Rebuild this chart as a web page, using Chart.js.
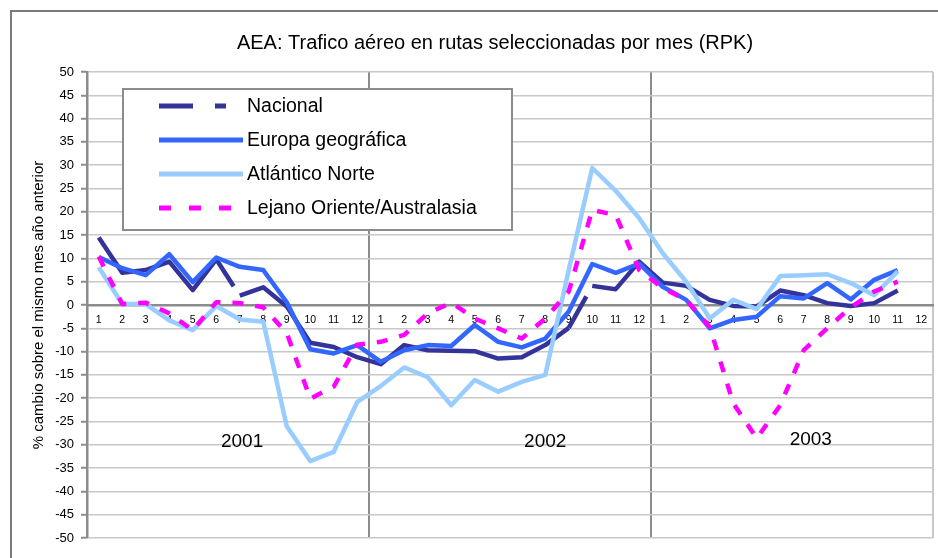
<!DOCTYPE html>
<html>
<head>
<meta charset="utf-8">
<title>AEA: Trafico aéreo en rutas seleccionadas por mes (RPK)</title>
<script src="https://cdn.jsdelivr.net/npm/chart.js@4.4.1/dist/chart.umd.min.js"></script>
<style>
  html, body { margin: 0; padding: 0; background: #fff; }
</style>
</head>
<body>
<canvas id="myChart" width="938" height="558"></canvas>
<script>
// datos (% cambio sobre el mismo mes del año anterior)
const years = ['2001', '2002', '2003'];
const months = ['1', '2', '3', '4', '5', '6', '7', '8', '9', '10', '11', '12'];

const nacional = [
  14.5, 6.9, 7.5, 9.3, 3.2, 9.8, 2.0, 3.8, -0.3, -8.1, -9.0, -11.2,
  -12.7, -8.6, -9.7, -9.8, -9.9, -11.5, -11.2, -8.6, -4.9, 4.1, 3.4, 9.3,
  4.8, 4.1, 1.1, -0.2, -0.3, 3.1, 2.1, 0.4, -0.2, 0.4, 3.1
];
const europa = [
  10.3, 7.9, 6.4, 10.9, 4.9, 10.2, 8.2, 7.5, 0.6, -9.5, -10.4, -8.6,
  -12.2, -9.7, -8.6, -8.8, -4.3, -7.9, -9.1, -7.2, -1.4, 8.8, 6.9, 8.9,
  3.9, 1.1, -5.0, -3.2, -2.5, 1.9, 1.4, 4.7, 1.2, 5.4, 7.5
];
const atlantico = [
  8.1, 0.2, 0.2, -3.3, -5.4, -0.2, -3.1, -3.6, -26.0, -33.5, -31.5, -20.8,
  -17.4, -13.4, -15.5, -21.5, -16.1, -18.6, -16.5, -15.0, 7.5, 29.4, 24.5, 18.6,
  11.1, 5.0, -2.9, 1.1, -0.9, 6.2, 6.4, 6.6, 4.7, 2.1, 7.2
];
const lejano = [
  10.4, 0.2, 0.5, -1.8, -5.4, 0.6, 0.4, -0.5, -6.0, -20.1, -17.5, -8.5,
  -7.9, -6.4, -1.8, 0.5, -2.9, -5.0, -7.2, -2.9, 2.9, 20.4, 19.3, 7.5,
  3.6, 1.1, -4.7, -21.1, -28.6, -21.5, -9.7, -5.0, -0.5, 2.9, 5.0
];

const categories = years.flatMap(() => months);
const chartTitle = 'AEA: Trafico aéreo en rutas seleccionadas por mes (RPK)';
const axisTitle = '% cambio sobre el mismo mes año anterior';

const fontFamily = '"Liberation Sans", Arial, sans-serif';
Chart.defaults.font.family = fontFamily;
Chart.defaults.color = '#000';

// cortes del trazo discontinuo de "Nacional"
const nacionalBreaks = { 5: [32, 40], 20: [36, 40] };

const extras = {
  id: 'extras',
  beforeDraw(chart) {
    const c = chart.ctx;
    c.save();
    c.fillStyle = '#fff';
    c.fillRect(0, 0, chart.width, chart.height);
    c.strokeStyle = '#7a7a7a';
    c.lineWidth = 2;
    c.strokeRect(11, 11, chart.width + 20, chart.height + 20);
    c.restore();
  },
  afterDatasetsDraw(chart) {
    const c = chart.ctx;
    const xs = chart.scales.x, ys = chart.scales.y;
    c.save();
    c.fillStyle = '#000';
    c.textAlign = 'center';
    c.textBaseline = 'middle';
    c.font = '20px ' + fontFamily;
    c.fillText(chartTitle, 495, 43);

    // etiquetas de año dentro del area
    const yearAt = [[6.1, -29.4], [19, -29.4], [30.3, -28.9]];
    c.font = '19px ' + fontFamily;
    years.forEach((yr, i) => {
      c.fillText(yr, xs.getPixelForValue(yearAt[i][0]), ys.getPixelForValue(yearAt[i][1]));
    });

    // leyenda
    c.fillStyle = '#fff';
    c.fillRect(123, 89, 389, 141);
    c.strokeStyle = '#8c8c8c';
    c.lineWidth = 2;
    c.strokeRect(123, 89, 389, 141);
    const rows = [106, 140, 174, 208];
    const legendDash = [[34, 22, 11, 40], [], [], [12, 18]];
    c.textAlign = 'left';
    c.font = '19.5px ' + fontFamily;
    chart.data.datasets.forEach((ds, i) => {
      c.beginPath();
      c.setLineDash(legendDash[i]);
      c.strokeStyle = ds.borderColor;
      c.lineWidth = 5;
      c.lineCap = 'butt';
      c.moveTo(159, rows[i]);
      c.lineTo(243, rows[i]);
      c.stroke();
      c.setLineDash([]);
      c.fillStyle = '#000';
      c.fillText(ds.label, 247, rows[i] + 1);
    });
    c.restore();
  }
};

const ctx = document.getElementById('myChart').getContext('2d');
const myChart = new Chart(ctx, {
  type: 'line',
  data: {
    labels: categories,
    datasets: [
      {
        label: 'Nacional',
        data: nacional,
        borderColor: '#333399',
        borderWidth: 4.5,
        order: 3,
        segment: {
          borderDash: c => nacionalBreaks[c.p0DataIndex]
        }
      },
      {
        label: 'Europa geográfica',
        data: europa,
        borderColor: '#3366ff',
        borderWidth: 4.5,
        order: 2
      },
      {
        label: 'Atlántico Norte',
        data: atlantico,
        borderColor: '#99ccff',
        borderWidth: 4.5,
        order: 1
      },
      {
        label: 'Lejano Oriente/Australasia',
        data: lejano,
        borderColor: '#ff00ff',
        borderWidth: 4.5,
        borderDash: [11, 12],
        order: 0
      }
    ]
  },
  options: {
    responsive: false,
    animation: false,
    events: [],
    layout: { padding: { left: 20, top: 72, right: 5, bottom: 20 } },
    elements: {
      point: { radius: 0 },
      line: { tension: 0, fill: false, borderJoinStyle: 'round' }
    },
    plugins: {
      legend: { display: false },
      title: { display: false },
      tooltip: { enabled: false }
    },
    scales: {
      x: {
        type: 'category',
        position: { y: 0 },
        offset: true,
        grid: {
          offset: true,
          drawTicks: false,
          lineWidth: 2,
          color: c => c.type !== 'tick' ? '#c8c8c8' : (c.index % 12 === 0 && c.index > 0 ? '#8c8c8c' : 'rgba(0,0,0,0)')
        },
        border: { color: '#8c8c8c', width: 2.5 },
        ticks: { autoSkip: false, maxRotation: 0, padding: 9, font: { size: 10.5 } }
      },
      y: {
        min: -50,
        max: 50,
        ticks: { stepSize: 5, padding: 7, font: { size: 13 } },
        grid: { color: '#c8c8c8', lineWidth: 1.5, tickLength: 6, tickColor: '#8c8c8c', tickWidth: 2 },
        border: { color: '#8c8c8c', width: 2.5 },
        title: { display: true, text: axisTitle, font: { size: 15 }, padding: { top: 10, bottom: 0 } },
        afterFit: s => { s.width = 67; }
      }
    }
  },
  plugins: [extras]
});
</script>
</body>
</html>
